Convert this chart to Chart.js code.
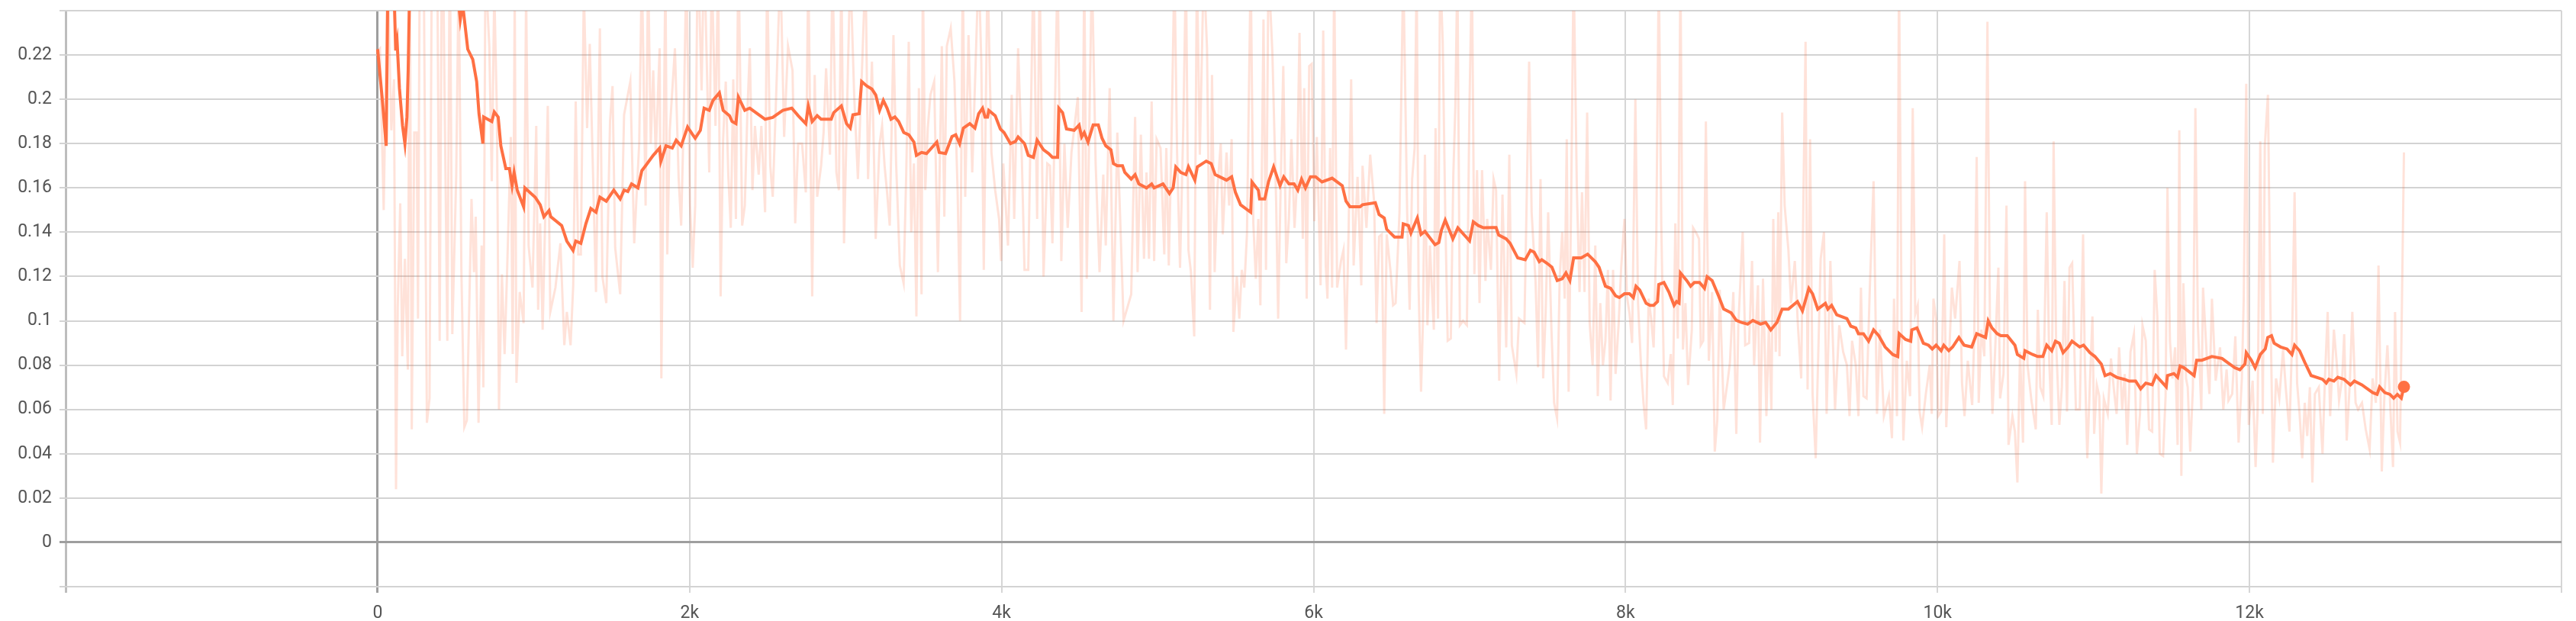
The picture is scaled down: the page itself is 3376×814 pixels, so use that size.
<!DOCTYPE html>
<html>
<head>
<meta charset="utf-8">
<style>
  html, body { margin: 0; padding: 0; background: #fff; }
  canvas { display: block; }
</style>
<script src="https://cdn.jsdelivr.net/npm/chart.js@4.4.1/dist/chart.umd.min.js"></script>
</head>
<body>
<canvas id="lossChart" width="3376" height="814"></canvas>
<script>
// raw values (pale line)
const rawSteps = [
  0, 15, 39, 64, 88, 105, 118, 129, 145, 158, 175, 194, 206, 219, 235, 251, 259, 271, 292, 316,
  333, 349, 382, 398, 414, 447, 463, 479, 504, 520, 537, 556, 572, 602, 618, 629, 647, 667, 678, 691,
  716, 732, 748, 765, 778, 797, 814, 830, 854, 866, 879, 890, 911, 936, 952, 968, 993, 1017, 1029, 1042,
  1058, 1091, 1107, 1140, 1172, 1197, 1213, 1237, 1254, 1270, 1286, 1303, 1322, 1343, 1360, 1400, 1425, 1441, 1466, 1490,
  1506, 1523, 1555, 1580,
  1620, 1645, 1677, 1694, 1718, 1734, 1751, 1767, 1783, 1808, 1819, 1832, 1845, 1857, 1873, 1906, 1930, 1946, 1963, 1979,
  2003, 2020, 2036, 2052, 2077, 2093, 2126, 2142, 2166, 2183, 2199, 2215, 2232, 2248, 2264, 2280, 2297, 2313, 2337, 2354,
  2370, 2386, 2403, 2419, 2443, 2460, 2484, 2497, 2517, 2533, 2549, 2582, 2606, 2631, 2660, 2677, 2696, 2721, 2745, 2761,
  2786, 2802, 2818, 2843, 2859, 2875, 2900, 2916, 2941, 2957, 2973, 2990, 3006, 3030, 3055, 3079, 3103, 3128, 3144, 3169,
  3193, 3218, 3234,
  3250, 3266, 3283, 3307, 3324, 3348, 3372, 3389, 3405, 3421, 3438, 3454, 3470, 3487, 3495, 3511, 3527, 3544, 3568, 3592,
  3617, 3633, 3649, 3674, 3698, 3718, 3734, 3751, 3767, 3788, 3812, 3837, 3853, 3870, 3886, 3910, 3935, 3959, 3984, 3997,
  4011, 4041, 4065, 4081, 4106, 4130, 4147, 4171, 4204, 4228, 4244, 4269, 4293, 4310, 4326, 4359, 4383, 4403, 4424, 4448,
  4489, 4513, 4530, 4546, 4562, 4579, 4603, 4628, 4652, 4668, 4693, 4717, 4742, 4782, 4831, 4856, 4872,
  4893, 4913, 4929, 4945, 4962, 4978, 4994, 5019, 5043, 5056, 5072, 5089, 5108, 5125, 5144, 5165, 5182, 5198, 5214, 5235,
  5252, 5271, 5296, 5317, 5336, 5349, 5366, 5385, 5405, 5418, 5442, 5459, 5475, 5486, 5508, 5524, 5540, 5556, 5573, 5597,
  5614, 5630, 5646, 5659, 5679, 5695, 5711, 5736, 5760, 5773, 5790, 5806, 5825, 5842, 5858, 5878, 5894, 5910, 5931, 5940,
  5956, 5972, 5988, 6005, 6021, 6045, 6062, 6078, 6089, 6106, 6119, 6132, 6151, 6176, 6192, 6208, 6225, 6241, 6257, 6282,
  6306, 6314, 6339, 6363, 6388, 6404, 6420, 6437, 6453, 6469, 6494, 6510,
  6526, 6551, 6575, 6600, 6616, 6632, 6648, 6661, 6673, 6689, 6701, 6714, 6730, 6746, 6771, 6782, 6798, 6811, 6828, 6844,
  6860, 6880, 6896, 6909, 6922, 6938, 6958, 6983, 6999, 7015, 7031, 7048, 7064, 7080, 7102, 7113, 7137, 7154, 7170, 7190,
  7211, 7235, 7255, 7271, 7300, 7317, 7352, 7366, 7382, 7398, 7423, 7439, 7455, 7472, 7488, 7504, 7525, 7542, 7561, 7578,
  7594, 7610, 7623, 7635, 7651, 7667, 7688, 7705, 7721, 7737, 7754, 7770, 7789, 7806, 7822, 7838, 7855, 7871, 7887, 7904,
  7920, 7936, 7956, 7972, 7993, 8009, 8026, 8042, 8063, 8080, 8099, 8115, 8132, 8148,
  8164, 8180, 8197, 8213, 8229, 8246, 8270, 8290, 8303, 8319, 8335, 8352, 8368, 8384, 8401, 8425, 8433, 8458, 8471, 8482,
  8498, 8515, 8534, 8555, 8572, 8588, 8604, 8629, 8653, 8669, 8691, 8710, 8723, 8751, 8767, 8792, 8811, 8824, 8849, 8862,
  8881, 8903, 8919, 8935, 8947, 8963, 8979, 8987, 9004, 9020, 9044, 9061, 9085, 9105, 9126, 9142, 9154, 9167, 9183, 9199,
  9219, 9235, 9251, 9272, 9289, 9313, 9343, 9370, 9395, 9419, 9436, 9452, 9476, 9493, 9509, 9525, 9545, 9566, 9590, 9612,
  9631, 9656, 9688, 9708, 9721, 9740, 9753, 9770, 9781,
  9803, 9824, 9841, 9857, 9873, 9885, 9901, 9925, 9950, 9963, 9974, 9991, 10004, 10023, 10043, 10056, 10072, 10092, 10113, 10141,
  10157, 10173, 10194, 10222, 10235, 10251, 10264, 10281, 10300, 10320, 10336, 10352, 10369, 10390, 10401, 10423, 10442, 10455, 10480, 10496,
  10512, 10529, 10548, 10561, 10577, 10602, 10630, 10643, 10659, 10678, 10700, 10716, 10732, 10744, 10760, 10781, 10797, 10814, 10830, 10846,
  10863, 10887, 10912, 10933, 10944, 10960, 10977, 10993, 11004, 11021, 11037, 11050, 11066, 11091, 11112, 11132, 11148, 11164, 11184, 11200,
  11216, 11237, 11259, 11278, 11298, 11314, 11335, 11356, 11376, 11392, 11409, 11425,
  11446, 11462, 11474, 11490, 11506, 11523, 11539, 11550, 11563, 11576, 11593, 11604, 11620, 11637, 11653, 11669, 11691, 11702, 11726, 11743,
  11759, 11783, 11811, 11832, 11853, 11865, 11889, 11909, 11930, 11951, 11963, 11979, 11995, 12020, 12039, 12052, 12069, 12085, 12098, 12118,
  12134, 12150, 12170, 12191, 12215, 12232, 12256, 12273, 12289, 12305, 12321, 12338, 12354, 12370, 12387, 12403, 12419, 12444, 12468, 12484,
  12501, 12517, 12541, 12558, 12574, 12594, 12607, 12623, 12643, 12659, 12680, 12696, 12721, 12745, 12770, 12789, 12810, 12827, 12848, 12864,
  12884, 12900, 12920, 12933, 12949, 12965, 12990
];
const rawLoss = [
  0.222, 0.223, 0.150, 0.26, 0.186, 0.209, 0.024, 0.106, 0.153, 0.084, 0.128, 0.078, 0.27, 0.051, 0.185, 0.185, 0.101, 0.28, 0.30, 0.054,
  0.065, 0.29, 0.27, 0.091, 0.30, 0.091, 0.28, 0.094, 0.166, 0.26, 0.123, 0.052, 0.055, 0.155, 0.122, 0.147, 0.054, 0.134, 0.070, 0.26,
  0.224, 0.163, 0.25, 0.193, 0.060, 0.121, 0.085, 0.122, 0.183, 0.085, 0.25, 0.072, 0.113, 0.099, 0.25, 0.134, 0.115, 0.188, 0.105, 0.144,
  0.096, 0.197, 0.104, 0.115, 0.135, 0.089, 0.104, 0.089, 0.116, 0.199, 0.130, 0.130, 0.25, 0.187, 0.225, 0.113, 0.232, 0.120, 0.108, 0.190,
  0.206, 0.133, 0.112, 0.193,
  0.208, 0.135, 0.180, 0.26, 0.152, 0.26, 0.180, 0.213, 0.175, 0.223, 0.074, 0.166, 0.26, 0.130, 0.186, 0.223, 0.164, 0.143, 0.193, 0.26,
  0.152, 0.124, 0.152, 0.27, 0.204, 0.27, 0.167, 0.26, 0.188, 0.26, 0.111, 0.182, 0.208, 0.166, 0.142, 0.209, 0.146, 0.27, 0.143, 0.152,
  0.193, 0.223, 0.159, 0.188, 0.166, 0.188, 0.149, 0.26, 0.170, 0.156, 0.189, 0.26, 0.183, 0.224, 0.213, 0.144, 0.180, 0.180, 0.158, 0.26,
  0.111, 0.211, 0.156, 0.170, 0.185, 0.214, 0.175, 0.26, 0.167, 0.159, 0.26, 0.135, 0.185, 0.26, 0.202, 0.164, 0.209, 0.26, 0.164, 0.217,
  0.137, 0.180, 0.188,
  0.170, 0.158, 0.143, 0.229, 0.171, 0.125, 0.117, 0.167, 0.226, 0.140, 0.171, 0.102, 0.205, 0.112, 0.26, 0.159, 0.187, 0.202, 0.208, 0.122,
  0.224, 0.147, 0.224, 0.232, 0.208, 0.159, 0.100, 0.26, 0.156, 0.229, 0.167, 0.224, 0.26, 0.217, 0.123, 0.26, 0.176, 0.159, 0.146, 0.127,
  0.171, 0.134, 0.202, 0.146, 0.223, 0.173, 0.123, 0.123, 0.26, 0.146, 0.26, 0.120, 0.171, 0.170, 0.135, 0.26, 0.127, 0.180, 0.142, 0.176,
  0.201, 0.104, 0.26, 0.119, 0.185, 0.26, 0.171, 0.122, 0.166, 0.134, 0.205, 0.100, 0.185, 0.100, 0.112, 0.192, 0.122,
  0.184, 0.128, 0.167, 0.128, 0.199, 0.127, 0.182, 0.178, 0.130, 0.178, 0.125, 0.180, 0.26, 0.176, 0.124, 0.188, 0.26, 0.132, 0.122, 0.093,
  0.26, 0.175, 0.26, 0.223, 0.105, 0.211, 0.122, 0.161, 0.180, 0.139, 0.176, 0.152, 0.182, 0.095, 0.120, 0.101, 0.123, 0.115, 0.139, 0.26,
  0.144, 0.119, 0.146, 0.107, 0.236, 0.123, 0.26, 0.221, 0.154, 0.101, 0.164, 0.215, 0.126, 0.146, 0.182, 0.142, 0.163, 0.230, 0.137, 0.205,
  0.110, 0.215, 0.216, 0.145, 0.183, 0.116, 0.231, 0.125, 0.110, 0.178, 0.115, 0.26, 0.115, 0.127, 0.132, 0.087, 0.142, 0.209, 0.125, 0.165,
  0.116, 0.170, 0.142, 0.175, 0.154, 0.099, 0.138, 0.139, 0.058, 0.139, 0.122, 0.107,
  0.108, 0.149, 0.26, 0.149, 0.105, 0.164, 0.178, 0.26, 0.116, 0.068, 0.099, 0.175, 0.098, 0.134, 0.096, 0.187, 0.101, 0.26, 0.226, 0.149,
  0.091, 0.092, 0.166, 0.197, 0.26, 0.098, 0.100, 0.098, 0.195, 0.26, 0.121, 0.168, 0.108, 0.168, 0.118, 0.146, 0.123, 0.164, 0.159, 0.073,
  0.157, 0.088, 0.175, 0.089, 0.076, 0.101, 0.099, 0.154, 0.217, 0.149, 0.118, 0.079, 0.164, 0.074, 0.104, 0.149, 0.096, 0.063, 0.056, 0.120,
  0.140, 0.110, 0.182, 0.068, 0.152, 0.26, 0.159, 0.113, 0.158, 0.113, 0.194, 0.099, 0.080, 0.134, 0.066, 0.108, 0.080, 0.091, 0.123, 0.064,
  0.123, 0.076, 0.099, 0.124, 0.146, 0.111, 0.103, 0.090, 0.200, 0.108, 0.080, 0.063, 0.051, 0.110,
  0.101, 0.088, 0.137, 0.26, 0.144, 0.075, 0.072, 0.085, 0.062, 0.144, 0.092, 0.26, 0.087, 0.108, 0.071, 0.096, 0.142, 0.139, 0.137, 0.089,
  0.091, 0.190, 0.082, 0.113, 0.041, 0.055, 0.114, 0.060, 0.072, 0.081, 0.113, 0.049, 0.098, 0.140, 0.089, 0.090, 0.127, 0.080, 0.116, 0.045,
  0.119, 0.057, 0.098, 0.060, 0.146, 0.086, 0.149, 0.084, 0.194, 0.152, 0.132, 0.108, 0.127, 0.098, 0.074, 0.165, 0.226, 0.069, 0.182, 0.067,
  0.038, 0.084, 0.128, 0.140, 0.058, 0.127, 0.060, 0.098, 0.086, 0.080, 0.057, 0.091, 0.080, 0.057, 0.115, 0.066, 0.065, 0.115, 0.163, 0.058,
  0.096, 0.057, 0.066, 0.047, 0.110, 0.057, 0.26, 0.096, 0.046,
  0.082, 0.066, 0.196, 0.103, 0.107, 0.059, 0.052, 0.067, 0.080, 0.058, 0.110, 0.101, 0.057, 0.059, 0.139, 0.052, 0.080, 0.115, 0.101, 0.127,
  0.072, 0.057, 0.082, 0.062, 0.092, 0.174, 0.063, 0.096, 0.084, 0.235, 0.099, 0.058, 0.086, 0.124, 0.065, 0.076, 0.152, 0.044, 0.057, 0.050,
  0.027, 0.086, 0.045, 0.163, 0.080, 0.064, 0.051, 0.105, 0.070, 0.066, 0.149, 0.082, 0.053, 0.181, 0.091, 0.053, 0.070, 0.118, 0.059, 0.124,
  0.126, 0.060, 0.060, 0.139, 0.082, 0.038, 0.072, 0.102, 0.049, 0.071, 0.066, 0.022, 0.065, 0.058, 0.083, 0.068, 0.058, 0.088, 0.060, 0.076,
  0.044, 0.086, 0.094, 0.040, 0.058, 0.098, 0.091, 0.051, 0.050, 0.123, 0.102, 0.040,
  0.039, 0.066, 0.160, 0.091, 0.074, 0.088, 0.044, 0.186, 0.030, 0.117, 0.074, 0.070, 0.041, 0.070, 0.196, 0.098, 0.060, 0.115, 0.084, 0.067,
  0.110, 0.073, 0.088, 0.060, 0.078, 0.064, 0.067, 0.093, 0.045, 0.074, 0.110, 0.207, 0.053, 0.073, 0.034, 0.060, 0.181, 0.058, 0.179, 0.202,
  0.106, 0.036, 0.074, 0.065, 0.087, 0.070, 0.050, 0.092, 0.158, 0.072, 0.058, 0.038, 0.063, 0.048, 0.070, 0.027, 0.067, 0.070, 0.040, 0.075,
  0.104, 0.057, 0.096, 0.082, 0.064, 0.074, 0.094, 0.046, 0.072, 0.104, 0.063, 0.060, 0.063, 0.051, 0.042, 0.074, 0.063, 0.125, 0.032, 0.065,
  0.089, 0.065, 0.034, 0.104, 0.050, 0.045, 0.176
];

// smoothed values (solid line)
const smoothSteps = [
  0, 30, 55, 64, 80, 105, 116, 125, 140, 160, 175, 188, 196, 205, 260, 350, 450, 510, 530, 545,
  578, 610, 635, 650, 675, 680, 732, 748, 773, 790, 822, 845, 862, 875, 895, 936, 944, 1010, 1042, 1066,
  1099, 1110, 1180, 1213, 1253, 1270, 1303, 1335, 1367, 1400, 1425, 1466, 1514, 1555, 1580,
  1604, 1628, 1669, 1694, 1718, 1767, 1808, 1816, 1849, 1889, 1914, 1946, 1987, 2020, 2036, 2069, 2093, 2126, 2150, 2191,
  2215, 2256, 2272, 2297, 2313, 2354, 2386, 2452, 2484, 2533, 2598, 2655, 2696, 2745, 2761, 2786, 2818, 2843, 2908, 2924,
  2973, 3006, 3030, 3047, 3087, 3103, 3136, 3169, 3193, 3218, 3242,
  3266, 3291, 3316, 3340, 3373, 3405, 3438, 3454, 3487, 3519, 3585, 3600, 3641, 3682, 3706, 3731, 3755, 3796, 3829, 3853,
  3878, 3894, 3910, 3918, 3959, 3992, 4016, 4057, 4089, 4106, 4147, 4171, 4204, 4228, 4269, 4302, 4326, 4359, 4367, 4391,
  4416, 4465, 4497, 4513, 4530, 4554, 4587, 4620, 4644, 4668, 4701, 4717, 4742, 4775, 4790, 4831, 4856, 4880,
  4929, 4962, 4978, 5035, 5076, 5100, 5117, 5149, 5182, 5198, 5239, 5255, 5312, 5344, 5369, 5442, 5475, 5499, 5532, 5597,
  5605, 5646, 5654, 5687, 5711, 5744, 5785, 5809, 5842, 5875, 5899, 5923, 5948, 5980, 6013, 6054, 6119, 6184, 6208, 6233,
  6298, 6314, 6396, 6420, 6453, 6469, 6519,
  6567, 6575, 6608, 6624, 6665, 6689, 6714, 6779, 6803, 6820, 6844, 6893, 6925, 7000, 7024, 7056, 7089, 7154, 7170, 7187,
  7235, 7260, 7309, 7357, 7390, 7414, 7447, 7463, 7496, 7528, 7562, 7594, 7618, 7643, 7667, 7691, 7716, 7757, 7806, 7830,
  7871, 7904, 7936, 7960, 7993, 8025, 8050, 8067, 8091, 8132, 8157,
  8180, 8205, 8213, 8246, 8278, 8311, 8327, 8343, 8352, 8392, 8417, 8441, 8474, 8506, 8523, 8555, 8596, 8629, 8677, 8710,
  8743, 8783, 8816, 8865, 8898, 8931, 8971, 9004, 9044, 9102, 9134, 9175, 9199, 9232, 9281, 9297, 9321, 9354, 9419, 9444,
  9476, 9493, 9525, 9558, 9590, 9623, 9664, 9713, 9745, 9754, 9795,
  9828, 9835, 9868, 9909, 9942, 9966, 9991, 10023, 10040, 10072, 10097, 10137, 10170, 10219, 10251, 10308, 10325, 10349, 10382, 10406,
  10447, 10496, 10512, 10553, 10561, 10610, 10642, 10675, 10700, 10732, 10756, 10781, 10805, 10838, 10862, 10911, 10936, 10977, 11009, 11050,
  11074, 11107, 11148, 11197, 11229, 11270, 11302, 11335, 11376, 11400, 11433,
  11466, 11474, 11515, 11539, 11555, 11580, 11612, 11645, 11661, 11694, 11759, 11824, 11857, 11906, 11938, 11971, 11979, 12012, 12036, 12069,
  12101, 12117, 12141, 12158, 12199, 12240, 12272, 12289, 12321, 12354, 12395, 12468, 12492, 12508, 12541, 12566, 12606, 12647, 12672, 12720,
  12790, 12818, 12834, 12867, 12900, 12924, 12948, 12973, 12990
];
const smoothLoss = [
  0.2226, 0.200, 0.179, 0.240, 0.275, 0.250, 0.222, 0.226, 0.205, 0.188, 0.180, 0.192, 0.213, 0.250, 0.300, 0.320, 0.290, 0.250, 0.236, 0.243,
  0.2226, 0.218, 0.208, 0.1935, 0.180, 0.192, 0.190, 0.1943, 0.192, 0.179, 0.1687, 0.1687, 0.161, 0.167, 0.159, 0.1515, 0.160, 0.1558, 0.1524, 0.147,
  0.1498, 0.147, 0.143, 0.136, 0.1318, 0.136, 0.135, 0.1438, 0.1507, 0.149, 0.1558, 0.154, 0.159, 0.155, 0.159,
  0.1584, 0.1618, 0.160, 0.1678, 0.170, 0.1747, 0.178, 0.172, 0.179, 0.178, 0.1815, 0.179, 0.1875, 0.184, 0.1824, 0.186, 0.196, 0.195, 0.1995, 0.2029,
  0.195, 0.1926, 0.190, 0.189, 0.201, 0.195, 0.196, 0.1926, 0.191, 0.1918, 0.195, 0.196, 0.1926, 0.189, 0.197, 0.190, 0.1926, 0.191, 0.191, 0.194,
  0.197, 0.189, 0.187, 0.193, 0.1935, 0.208, 0.206, 0.2046, 0.202, 0.195, 0.1995,
  0.196, 0.191, 0.192, 0.190, 0.185, 0.184, 0.1807, 0.1747, 0.176, 0.1755, 0.1807, 0.176, 0.1755, 0.1832, 0.184, 0.180, 0.187, 0.189, 0.187, 0.1935,
  0.196, 0.192, 0.192, 0.195, 0.1926, 0.1866, 0.185, 0.180, 0.181, 0.183, 0.180, 0.1747, 0.1738, 0.1815, 0.1772, 0.1755, 0.1738, 0.1738, 0.196, 0.194,
  0.1866, 0.186, 0.1884, 0.183, 0.185, 0.1807, 0.1884, 0.1884, 0.1824, 0.179, 0.1772, 0.171, 0.170, 0.170, 0.167, 0.164, 0.166, 0.1618,
  0.160, 0.1618, 0.160, 0.1618, 0.1575, 0.160, 0.1695, 0.167, 0.166, 0.1695, 0.1635, 0.1695, 0.1721, 0.171, 0.166, 0.1635, 0.165, 0.158, 0.1524, 0.149,
  0.1627, 0.159, 0.155, 0.155, 0.1627, 0.1695, 0.161, 0.165, 0.1618, 0.1618, 0.159, 0.164, 0.160, 0.165, 0.165, 0.1627, 0.1644, 0.161, 0.154, 0.1515,
  0.1515, 0.1524, 0.1533, 0.148, 0.1464, 0.1413, 0.1378,
  0.1378, 0.1438, 0.143, 0.1396, 0.1464, 0.139, 0.1404, 0.1344, 0.1353, 0.141, 0.1455, 0.137, 0.142, 0.1361, 0.1447, 0.143, 0.142, 0.1421, 0.1421, 0.1387,
  0.137, 0.135, 0.1284, 0.1276, 0.1318, 0.131, 0.1267, 0.1276, 0.126, 0.1242, 0.1182, 0.119, 0.1216, 0.1182, 0.1284, 0.1284, 0.1284, 0.1301, 0.1267, 0.1242,
  0.1156, 0.1147, 0.1113, 0.1105, 0.1122, 0.1122, 0.1105, 0.1156, 0.1139, 0.1079, 0.107,
  0.1070, 0.1087, 0.1164, 0.1173, 0.113, 0.107, 0.1087, 0.108, 0.1216, 0.1182, 0.1156, 0.1173, 0.1173, 0.1147, 0.1199, 0.1182, 0.1113, 0.1053, 0.1036, 0.1002,
  0.0993, 0.0985, 0.1002, 0.0985, 0.0993, 0.0959, 0.0993, 0.1053, 0.1053, 0.1087, 0.1045, 0.1147, 0.1122, 0.1053, 0.1079, 0.1053, 0.107, 0.1027, 0.101, 0.0976,
  0.0968, 0.0942, 0.0942, 0.0908, 0.0959, 0.0933, 0.0882, 0.0848, 0.0839, 0.0942, 0.0916,
  0.0908, 0.0959, 0.0968, 0.0899, 0.089, 0.0873, 0.089, 0.0865, 0.089, 0.0865, 0.0882, 0.0925, 0.089, 0.0882, 0.0942, 0.0925, 0.100, 0.0968, 0.0942, 0.0933,
  0.0933, 0.089, 0.0848, 0.0831, 0.0865, 0.0848, 0.0839, 0.0839, 0.089, 0.0865, 0.0908, 0.0899, 0.0856, 0.0882, 0.0908, 0.0882, 0.089, 0.0856, 0.0839, 0.0805,
  0.0753, 0.0762, 0.0745, 0.0736, 0.0728, 0.0728, 0.0693, 0.0719, 0.0711, 0.0753, 0.0728,
  0.0702, 0.0753, 0.0762, 0.0745, 0.0796, 0.0788, 0.0771, 0.0753, 0.0822, 0.0822, 0.0839, 0.0830, 0.0813, 0.0788, 0.0779, 0.0805, 0.0856, 0.0822, 0.0788, 0.0848,
  0.0873, 0.0925, 0.0933, 0.0899, 0.0882, 0.0873, 0.0848, 0.0890, 0.0865, 0.0813, 0.0753, 0.0736, 0.0719, 0.0736, 0.0728, 0.0745, 0.0736, 0.0711, 0.0728, 0.0711,
  0.0676, 0.0668, 0.0702, 0.0676, 0.0668, 0.0651, 0.0668, 0.0651, 0.0702
];

// axis ticks
const xMin = -2000, xMax = 14000, xStep = 2000;
const yMin = -0.02, yMax = 0.24, yStep = 0.02;

const lineColor = "#ff7043";
const rawColor = "rgba(255, 112, 67, 0.2)";

const rawPoints = rawSteps.map((s, i) => ({ x: s, y: rawLoss[i] }));
const smoothPoints = smoothSteps.map((s, i) => ({ x: s, y: smoothLoss[i] }));
const lastIdx = smoothPoints.length - 1;

const near = (a, b) => Math.abs(a - b) < 1e-9;

new Chart(document.getElementById("lossChart"), {
  type: "line",
  data: {
    datasets: [
      {
        label: "smoothed",
        data: smoothPoints,
        borderColor: lineColor,
        borderWidth: 4,
        tension: 0,
        pointRadius: (ctx) => (ctx.dataIndex === lastIdx ? 8 : 0),
        pointBackgroundColor: lineColor,
        pointBorderWidth: 0,
        clip: 0,
        order: 0,
      },
      {
        label: "raw",
        data: rawPoints,
        borderColor: rawColor,
        borderWidth: 3,
        tension: 0,
        pointRadius: 0,
        clip: 0,
        order: 1,
      },
    ],
  },
  options: {
    responsive: false,
    animation: false,
    devicePixelRatio: 1,
    layout: { padding: { top: 14, right: 19, left: 0, bottom: 0 } },
    plugins: { legend: { display: false }, tooltip: { enabled: false } },
    scales: {
      x: {
        type: "linear",
        min: xMin,
        max: xMax,
        border: { display: false },
        grid: {
          color: (c) => (near(c.tick.value, 0) ? "#9e9e9e" : near(c.tick.value, xMin) ? "#bdbdbd" : "#d6d6d6"),
          lineWidth: (c) => (near(c.tick.value, 0) || near(c.tick.value, xMin) ? 3 : 2),
          tickLength: 8,
        },
        ticks: {
          stepSize: xStep,
          autoSkip: false,
          maxRotation: 0,
          padding: 13,
          color: "#555",
          font: { family: "Roboto", size: 23 },
          callback: (v) => {
            if (v <= xMin || v >= xMax) return "";
            return v === 0 ? "0" : v / 1000 + "k";
          },
        },
        afterFit: (scale) => {
          scale.height = 45;
          scale.paddingLeft = 0;
          scale.paddingRight = 0;
        },
      },
      y: {
        type: "linear",
        min: yMin,
        max: yMax,
        border: { display: false },
        grid: {
          color: (c) => (near(c.tick.value, 0) ? "#9e9e9e" : "#d3d3d3"),
          lineWidth: (c) => (near(c.tick.value, 0) ? 3 : 2),
          tickLength: 8,
        },
        ticks: {
          stepSize: yStep,
          padding: 10,
          color: "#555",
          font: { family: "Roboto", size: 23 },
          callback: (v) => {
            if (v < yMin + 0.001 || v > yMax - 0.001) return "";
            return String(Math.round(v * 100) / 100);
          },
        },
        afterFit: (scale) => {
          scale.width = 86;
          scale.paddingTop = 0;
          scale.paddingBottom = 0;
        },
      },
    },
  },
});
</script>
</body>
</html>
